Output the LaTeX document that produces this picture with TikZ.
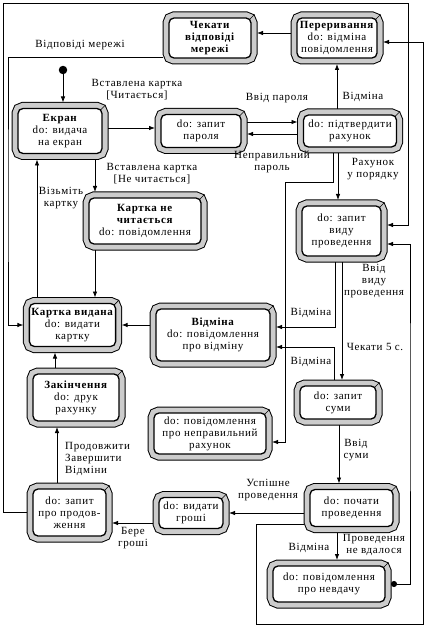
\documentclass[tikz,border=0pt]{standalone}
\usepackage{fontspec}
\setmainfont{Liberation Serif}[LetterSpace=6]
\usetikzlibrary{arrows.meta}

\begin{document}
\begin{tikzpicture}[
    x=1pt,
    y=-1pt,
    >={Latex[length=6pt,width=4.5pt]},
    stbox/.style={draw, fill=white, line width=1.3pt, rounded corners=5pt, align=center, inner sep=2pt, outer sep=6pt, font=\fontsize{11}{12}\selectfont,
        preaction={draw=black, line width=13pt},
        preaction={draw=gray!40, line width=11pt},
        append after command={([shift={(-7.5pt,-7.5pt)}]\tikzlastnode.north east) edge[line width=0.6pt] ([shift={(-2.6pt,-2.6pt)}]\tikzlastnode.north east)}},
    lbl/.style={align=center, inner sep=0pt, font=\fontsize{11}{12}\selectfont},
    dot/.style={circle, fill, inner sep=3pt},
    line/.style={->, line width=0.8pt}
]
\useasboundingbox (0,0) rectangle (428,628);
% states
\node[stbox, minimum width=82pt, minimum height=40pt] (wait) at (210,38) {\textbf{Чекати}\\\textbf{відповіді}\\\textbf{мережі}};
\node[stbox, minimum width=80pt, minimum height=40pt] (brk) at (337,38) {\textbf{Переривання}\\do: відміна\\повідомлення};
\node[stbox, minimum width=84pt, minimum height=45pt] (screen) at (60,131) {\textbf{Екран}\\do: видача\\на екран};
\node[stbox, minimum width=80pt, minimum height=33pt] (pass) at (201,131) {do: запит\\пароля};
\node[stbox, minimum width=93pt, minimum height=32pt] (confirm) at (350,131) {do: підтвердити\\рахунок};
\node[stbox, minimum width=112pt, minimum height=46pt] (noread) at (145,221) {\textbf{Картка не}\\\textbf{читається}\\do: повідомлення};
\node[stbox, minimum width=79pt, minimum height=50pt] (kind) at (341.5,231) {do: запит\\виду\\проведення};
\node[stbox, minimum width=83pt, minimum height=43pt] (issued) at (72.5,325) {\textbf{Картка видана}\\do: видати\\картку};
\node[stbox, minimum width=114pt, minimum height=52pt] (cancel) at (213,335) {\textbf{Відміна}\\do: повідомлення\\про відміну};
\node[stbox, minimum width=76pt, minimum height=33pt] (sum) at (338,402.5) {do: запит\\суми};
\node[stbox, minimum width=86pt, minimum height=47pt] (fin) at (76,397.5) {\textbf{Закінчення}\\do: друк\\рахунку};
\node[stbox, minimum width=112pt, minimum height=41pt] (wrong) at (210,433.5) {do: повідомлення\\про неправильний\\рахунок};
\node[stbox, minimum width=73pt, minimum height=47pt] (cont) at (69.5,512.5) {do: запит\\про продов-\\ження};
\node[stbox, minimum width=64pt, minimum height=31pt] (money) at (191,513) {do: видати\\гроші};
\node[stbox, minimum width=83pt, minimum height=37pt] (start) at (351.5,508) {do: почати\\проведення};
\node[stbox, minimum width=112pt, minimum height=36pt] (fail) at (329,584) {do: повідомлення\\про невдачу};
\node[dot] (init) at (63,70) {};

% helper corners
\coordinate (lft) at (8,200);
\coordinate (fl) at (3,3);
\coordinate (fr) at (408,3);
\coordinate (fx) at (410,400);
\coordinate (bend) at (285,182);
\coordinate (cl) at (256,624);
\coordinate (cr) at (423,624);

% transitions
\draw[line] (init) -- (init |- screen.north);
\draw[line] ([yshift=3pt]screen.east) -- ([yshift=3pt]pass.west);
\draw[line] ([yshift=9pt]pass.east) -- ([yshift=9pt]confirm.west);
\draw[line] ([yshift=-3pt]confirm.west) -- ([yshift=-3pt]pass.east);
\draw[line] (confirm.north -| brk.south) -- (brk.south);
\draw[line] ([yshift=5pt]brk.west) -- ([yshift=5pt]wait.east);
\draw[line] ([yshift=-19pt]wait.west) -| (lft) |- (issued.west);
\draw[line] ([xshift=35pt]screen.south) -- ([xshift=-50pt]noread.north);
\draw[line] ([xshift=-50pt]noread.south) -- ([xshift=22.5pt]issued.north);
\draw[line] ([xshift=-35.5pt]issued.north) -- ([xshift=-23pt]screen.south);
\draw[line] ([xshift=-12pt]confirm.south) -- ([xshift=-3.5pt]kind.north);
\draw[line] ([xshift=-17pt]confirm.south) |- (bend) |- ([yshift=-8.5pt]wrong.east);
\draw[line] ([xshift=0.5pt]kind.south) -- ([xshift=4pt]sum.north);
\draw[line] ([xshift=-6.5pt]kind.south) |- ([yshift=8pt]cancel.east);
\draw[line] ([xshift=-4pt]sum.north) |- ([yshift=-12pt]cancel.east);
\draw[line] ([yshift=10pt]cancel.west) -- (issued.east);
\draw[line] ([xshift=-21pt]fin.north) -- ([xshift=-17.5pt]issued.south);
\draw[line] ([xshift=-12.5pt]cont.north) -- ([xshift=-19pt]fin.south);
\draw[line] (cont.west) -| (fl) -- (fr) |- ([yshift=6pt]kind.east);
\draw[line] ([yshift=-10pt]money.west) -- ([yshift=-10.5pt]cont.east);
\draw[line] ([yshift=-5pt]start.west) -- (money.east);
\draw[line] ([xshift=1pt]sum.south) -- ([xshift=-12.5pt]start.north);
\draw[line] ([xshift=-14.5pt]start.south) -- ([xshift=8pt]fail.north);
\draw[line] ([yshift=-16pt]start.west) -| (cl) -- (cr) |- ([yshift=-4pt]brk.east);
\draw[line, {Circle[length=6pt]}->] (fail.east) -| (fx) |- ([yshift=-13pt]kind.east);

% labels
\node[lbl] at (80,45) {Відповіді мережі};
\node[lbl] at (137,90) {Вставлена картка\\{[}Читається{]}};
\node[lbl] at (277,98) {Ввід пароля};
\node[lbl] at (363,97) {Відміна};
\node[lbl] at (272,162) {Неправильний\\пароль};
\node[lbl] at (373,169) {Рахунок\\у порядку};
\node[lbl] at (152,174) {Вставлена картка\\{[}Не читається{]}};
\node[lbl] at (61,198) {Візьміть\\картку};
\node[lbl] at (374,281) {Ввід\\виду\\проведення};
\node[lbl] at (311,313) {Відміна};
\node[lbl] at (375,347) {Чекати 5 с.};
\node[lbl] at (311,362) {Відміна};
\node[lbl] at (356,450) {Ввід\\суми};
\node[lbl, align=left, anchor=west] at (65,459) {Продовжити\\Завершити\\Відміни};
\node[lbl] at (268,490) {Успішне\\проведення};
\node[lbl] at (133,538) {Бере\\гроші};
\node[lbl] at (309,548) {Відміна};
\node[lbl] at (374,545) {Проведення\\не вдалося};
\end{tikzpicture}
\end{document}
